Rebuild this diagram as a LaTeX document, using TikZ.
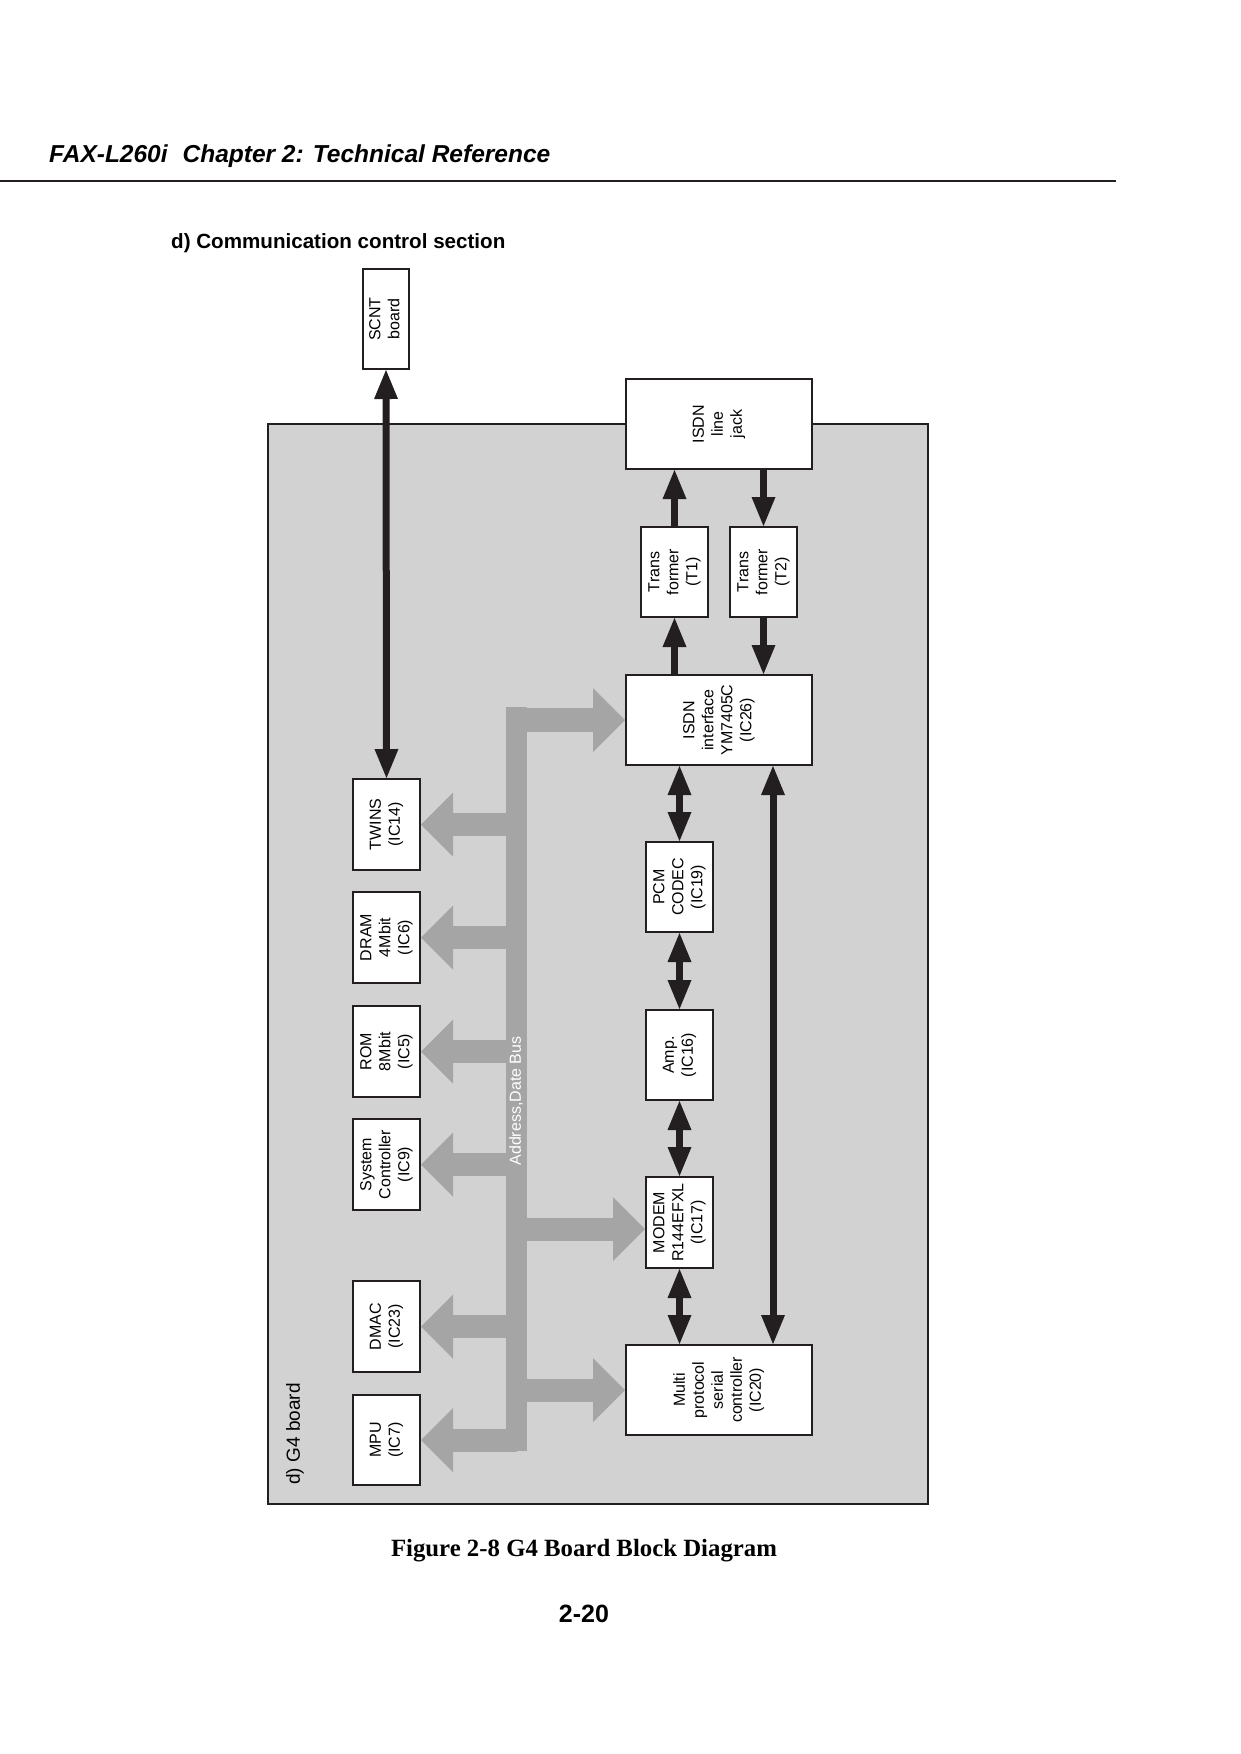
\documentclass[tikz,border=0pt]{standalone}
\usepackage{fontspec}
\setmainfont{Liberation Sans}
\newfontfamily\serifbold{Liberation Serif}
\usepackage{graphicx}
\usetikzlibrary{arrows.meta}
\definecolor{panelgray}{HTML}{D2D2D2}
\definecolor{busgray}{HTML}{A5A5A5}
\definecolor{ink}{HTML}{231F20}
\newcommand{\vt}[1]{\rotatebox{90}{\begin{tabular}{@{}c@{}}#1\end{tabular}}}
\begin{document}
\begin{tikzpicture}[x=1pt,y=-1pt,
  box/.style={draw=ink, line width=2pt, fill=white, inner sep=0pt,
              font=\fontsize{16}{19}\selectfont},
  nbox/.style={box, minimum width=67pt, minimum height=90pt},
  wbox/.style={box, minimum width=186pt, minimum height=90pt},
  blk/.style={draw=ink, line width=7pt,
              >={Triangle[length=29pt,width=24pt,line width=0pt]}},
  busline/.style={draw=busgray, line width=23pt,
              -{Triangle[length=32pt,width=64pt,line width=0pt]}},
  txt/.style={inner sep=0pt}
]
\useasboundingbox (0,0) rectangle (1240,1754);

% header
\node[txt, anchor=base west, font=\fontsize{24.5}{29}\selectfont\bfseries\itshape] (hdr)
  at (49,162) {FAX-L260i\hspace{15pt}Chapter 2: Technical Reference};
\draw[ink, line width=2.5pt] (0,181) -- (1116,181);
\node[txt, anchor=base west, font=\fontsize{20.6}{24}\selectfont\bfseries] (sec)
  at (171,248) {d) Communication control section};

% board panel
\draw[ink, line width=1.3pt, fill=panelgray] (268,424) rectangle (928,1504);
\node[txt, rotate=90, font=\fontsize{19}{22}\selectfont] (g4) at (295,1434) {d) G4 board};

% boxes
\node[box, minimum width=46pt, minimum height=100pt] (scnt) at (386,319) {\vt{SCNT\\board}};
\node[wbox] (jack) at (719,424) {\vt{ISDN\\line\\jack}};
\node[nbox] (t1) at (674.5,572) {\vt{Trans\\former\\(T1)}};
\node[nbox] (t2) at (763.5,572) {\vt{Trans\\former\\(T2)}};
\node[wbox] (isdnif) at (719,720) {\vt{ISDN\\interface\\YM7405C\\(IC26)}};
\node[nbox] (pcm) at (679.5,887) {\vt{PCM\\CODEC\\(IC19)}};
\node[nbox] (amp) at (679.5,1055) {\vt{Amp.\\(IC16)}};
\node[nbox, minimum height=91pt] (modem) at (679.5,1222.5) {\vt{MODEM\\R144EFXL\\(IC17)}};
\node[wbox] (multi) at (719,1390) {\vt{Multi\\protocol\\serial\\controller\\(IC20)}};

\node[nbox, minimum height=91pt] (twins) at (386.5,824.5) {\vt{TWINS\\(IC14)}};
\node[nbox, minimum height=91pt] (dram) at (386.5,937.5) {\vt{DRAM\\4Mbit\\(IC6)}};
\node[nbox, minimum height=91pt] (rom) at (386.5,1051.5) {\vt{ROM\\8Mbit\\(IC5)}};
\node[nbox, minimum height=91pt] (sysc) at (386.5,1164.5) {\vt{System\\Controller\\(IC9)}};
\node[nbox, minimum height=91pt] (dmac) at (386.5,1326.5) {\vt{DMAC\\(IC23)}};
\node[nbox] (mpu) at (386.5,1440) {\vt{MPU\\(IC7)}};

% address / data bus
\coordinate (busL) at (506,707);
\coordinate (busC) at (516.5,707);
\coordinate (busB) at (527,1451);
\coordinate (modemY) at (0,1229);
\fill[busgray] (busL) rectangle (busB);
\draw[busline, line width=24pt] (busL |- isdnif.west) -- (isdnif.west);
\draw[busline] (busC |- twins.east) -- (twins.east);
\draw[busline] (busC |- dram.east) -- (dram.east);
\draw[busline] (busC |- rom.east) -- (rom.east);
\draw[busline] (busC |- sysc.east) -- (sysc.east);
\draw[busline] (busC |- dmac.east) -- (dmac.east);
\draw[busline] (busC |- mpu.east) -- (mpu.east);
\draw[busline] (busC |- modemY) -- (modem.west |- modemY);
\draw[busline] (busC |- multi.west) -- (multi.west);
\node[txt, rotate=90, text=white, font=\fontsize{16}{19}\selectfont] (buslbl)
  at (516,1101) {Address,Date Bus};

% black signal arrows
\coordinate (lx) at (773,0);
\draw[blk, <->] (scnt.south) -- (twins.north);
\draw[blk, ->] (isdnif.north -| t1) -- (t1.south);
\draw[blk, ->] (t1.north) -- (jack.south -| t1);
\draw[blk, ->] (jack.south -| t2) -- (t2.north);
\draw[blk, ->] (t2.south) -- (isdnif.north -| t2);
\draw[blk, <->] (isdnif.south -| pcm) -- (pcm.north);
\draw[blk, <->] (pcm.south) -- (amp.north);
\draw[blk, <->] (amp.south) -- (modem.north);
\draw[blk, <->] (modem.south) -- (multi.north -| modem);
\draw[blk, <->] (isdnif.south -| lx) -- (multi.north -| lx);

% caption and page number
\node[txt, anchor=base, font=\serifbold\fontsize{24.8}{29}\selectfont\bfseries] (cap)
  at (584,1556) {Figure 2-8 G4 Board Block Diagram};
\node[txt, anchor=base, font=\fontsize{25}{30}\selectfont\bfseries] (pg)
  at (584,1622) {2-20};
\end{tikzpicture}
\end{document}
